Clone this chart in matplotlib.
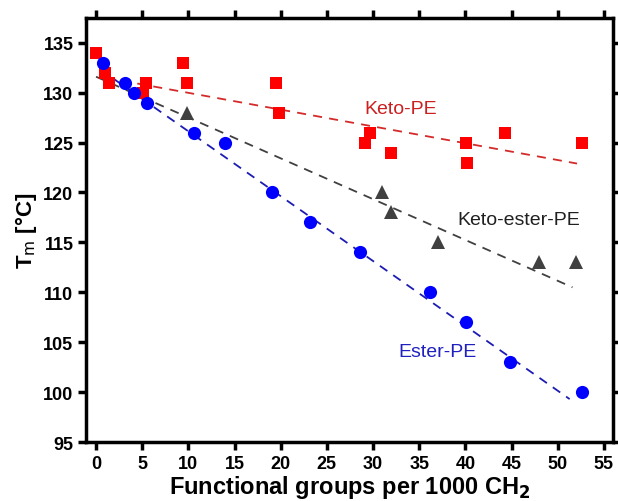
import matplotlib
matplotlib.use("Agg")
import matplotlib.pyplot as plt

plt.rcParams['font.family'] = ['Liberation Sans', 'DejaVu Sans']

# Keto-PE (red squares)
keto_x = [0, 1, 1.4, 5.1, 5.4, 9.4, 9.9, 19.5, 19.8, 29.1, 29.7, 31.9, 40.1, 40.2, 44.3, 52.6]
keto_y = [134, 132, 131, 130, 131, 133, 131, 131, 128, 125, 126, 124, 125, 123, 126, 125]

# Keto-ester-PE (grey triangles)
ketoester_x = [9.9, 31.0, 32.0, 37.0, 48.0, 52.0]
ketoester_y = [128, 120, 118, 115, 113, 113]

# Ester-PE (blue circles)
ester_x = [0.8, 3.1, 4.1, 5.5, 10.6, 14.0, 19.1, 23.2, 28.6, 36.2, 40.1, 44.8, 52.6]
ester_y = [133, 131, 130, 129, 126, 125, 120, 117, 114, 110, 107, 103, 100]

# linear fits, endpoints
keto_fit_x = [1.0, 52.1]
keto_fit_y = [131.5, 122.9]
ketoester_fit_x = [0.0, 51.6]
ketoester_fit_y = [131.6, 110.5]
ester_fit_x = [0.5, 51.3]
ester_fit_y = [132.3, 99.3]

fig = plt.figure(figsize=(6.18, 5.02), dpi=100)
ax = fig.add_axes([0.139, 0.1175, 0.853, 0.845])

dash = (0, (5, 4))
ax.plot(keto_fit_x, keto_fit_y, linestyle=dash, color='#d42a2a', lw=1.3, zorder=2)
ax.plot(ketoester_fit_x, ketoester_fit_y, linestyle=dash, color='#404040', lw=1.3, zorder=2)
ax.plot(ester_fit_x, ester_fit_y, linestyle=dash, color='#1c1cb4', lw=1.3, zorder=2)

ax.plot(keto_x, keto_y, 's', color='#ff0000', ms=8.5, mew=0, zorder=3)
ax.plot(ketoester_x, ketoester_y, '^', color='#404040', ms=10, mew=0, zorder=3)
ax.plot(ester_x, ester_y, 'o', color='#0000ff', ms=9.5, mew=0, zorder=3)

ax.text(33.0, 128.4, 'Keto-PE', color='#cc2020', fontsize=14, ha='center', va='center')
ax.text(45.8, 117.3, 'Keto-ester-PE', color='#202020', fontsize=14, ha='center', va='center')
ax.text(37.0, 104.1, 'Ester-PE', color='#2020c0', fontsize=14, ha='center', va='center')

ax.set_xlim(-1.1, 56)
ax.set_ylim(95, 137.5)
ax.set_xticks(range(0, 56, 5))
ax.set_yticks(range(95, 136, 5))

for s in ax.spines.values():
    s.set_linewidth(2.5)
ax.tick_params(direction='out', length=6, width=2.5, top=True, right=True,
               labeltop=False, labelright=False, labelsize=13, pad=3)
for lab in ax.get_xticklabels() + ax.get_yticklabels():
    lab.set_fontweight('bold')

ax.set_xlabel('Functional groups per 1000 CH$_\\mathbf{2}$', fontsize=17, fontweight='bold', labelpad=1)
ax.set_ylabel('T$_\\mathrm{m}$ [°C]', fontsize=16, fontweight='bold', labelpad=3)

fig.savefig('out.png', dpi=100)
